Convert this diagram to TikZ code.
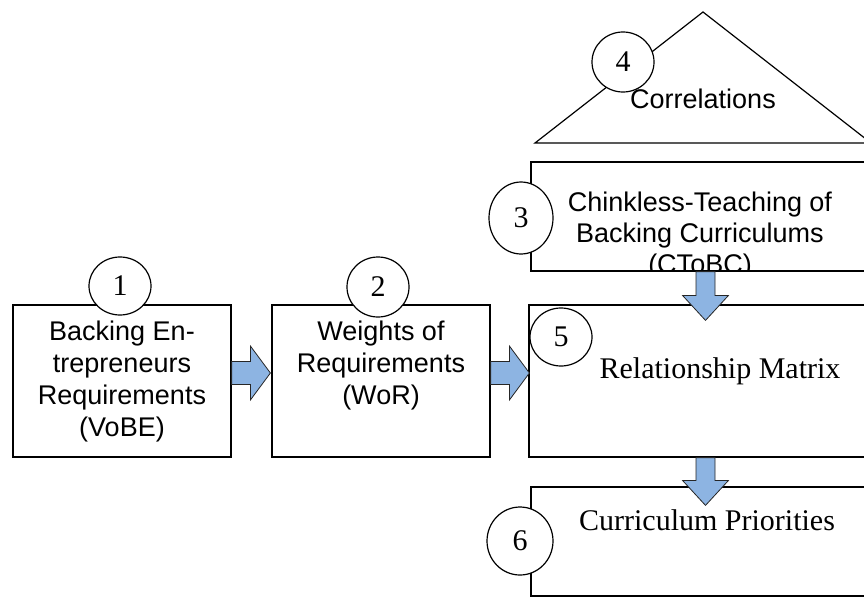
\documentclass[tikz,border=0pt]{standalone}
\usepackage{fontspec}
\setmainfont{Liberation Serif}
\newfontfamily\arialf{Liberation Sans}
\usetikzlibrary{calc,shapes.geometric}
\definecolor{arrowblue}{RGB}{141,180,226}

% horizontal block arrow: #1 = tail point, #2 = tip
\newcommand\hblock[2]{%
  \draw[blockarrow] ($(#1)+(0,-11.5)$) -- ($(#2)+(-20,-11.5)$) -- ($(#2)+(-20,-27)$)
    -- (#2) -- ($(#2)+(-20,27)$) -- ($(#2)+(-20,11.5)$) -- ($(#1)+(0,11.5)$) -- cycle;}
% downward block arrow: #1 = tail point, #2 = tip
\newcommand\vblock[2]{%
  \draw[blockarrow] ($(#1)+(-9.5,0)$) -- ($(#2)+(-9.5,-25)$) -- ($(#2)+(-23,-25)$)
    -- (#2) -- ($(#2)+(23,-25)$) -- ($(#2)+(9.5,-25)$) -- ($(#1)+(9.5,0)$) -- cycle;}

\begin{document}
\begin{tikzpicture}[x=1pt,y=-1pt,
  box/.style={draw, line width=1.2pt, rectangle, inner sep=0pt},
  num/.style={draw, fill=white, line width=1.2pt, ellipse, inner sep=0pt,
              font=\fontsize{30}{34}\selectfont},
  sanslabel/.style={inner sep=0pt, align=center, font=\arialf\fontsize{27}{32}\selectfont},
  seriflabel/.style={inner sep=0pt, font=\fontsize{30}{34}\selectfont},
  blockarrow/.style={fill=arrowblue, draw=black!85, line width=0.8pt, line join=miter}
]
\useasboundingbox (0,0) rectangle (864,597);
\begin{scope}
\clip (0,0) rectangle (864,597);

% process boxes
\node[box, minimum width=218, minimum height=152] (b1) at (122,381) {};
\node[box, minimum width=218, minimum height=152] (b2) at (381,381) {};
\node[box, minimum width=371, minimum height=152] (b5) at (714.5,381) {};
\node[box, minimum width=369, minimum height=109] (b3) at (715.5,216.5) {};
\node[box, minimum width=369, minimum height=109] (b6) at (715.5,541.5) {};

% correlation roof
\draw[line width=1.2pt, line join=miter] (535,143) -- (703,12) -- (871,143) -- cycle;

% box texts
\node[sanslabel, anchor=north] (t1) at (122,320.7)
  {Backing En-\\trepreneurs\\Requirements\\(VoBE)};
\node[sanslabel, anchor=north] (t2) at (381,320.7)
  {Weights of\\Requirements\\(WoR)};
\begin{scope}
  \clip (b3.north west) rectangle (b3.south east);
  \node[sanslabel, anchor=north, font=\arialf\fontsize{27}{31}\selectfont] (t3) at (700,191.4)
    {Chinkless-Teaching of\\Backing Curriculums\\(CToBC)};
\end{scope}
\node[sanslabel, anchor=base] (t4) at (703,108) {Correlations};
\node[seriflabel, anchor=base] (t5) at (720,378) {Relationship Matrix};
\node[seriflabel, anchor=base] (t6) at (707,530) {Curriculum Priorities};

% arrow end points
\coordinate (vx) at (705.5,0);
\coordinate (h12s) at ($(b1.east)+(0,-8)$);
\coordinate (h12t) at ($(b2.west)+(-1,-8)$);
\coordinate (h25s) at ($(b2.east)+(0,-8)$);
\coordinate (h25t) at ($(b5.west)+(1,-8)$);
\coordinate (v35s) at (b3.south -| vx);
\coordinate (v35t) at ($(b5.north -| vx)+(0,16)$);
\coordinate (v56s) at (b5.south -| vx);
\coordinate (v56t) at ($(b6.north -| vx)+(0,19)$);

% block arrows
\hblock{h12s}{h12t}
\hblock{h25s}{h25t}
\vblock{v35s}{v35t}
\vblock{v56s}{v56t}

% step numbers
\node[num, minimum width=62, minimum height=58] (c1) at (120,286) {1};
\node[num, minimum width=62, minimum height=60] (c2) at (378,287) {2};
\node[num, minimum width=64, minimum height=72] (c3) at (521,218) {3};
\node[num, minimum width=62, minimum height=60] (c4) at (623,62) {4};
\node[num, minimum width=62, minimum height=58] (c5) at (561,337) {5};
\node[num, minimum width=66, minimum height=68] (c6) at (520,541) {6};
\end{scope}
\end{tikzpicture}
\end{document}
